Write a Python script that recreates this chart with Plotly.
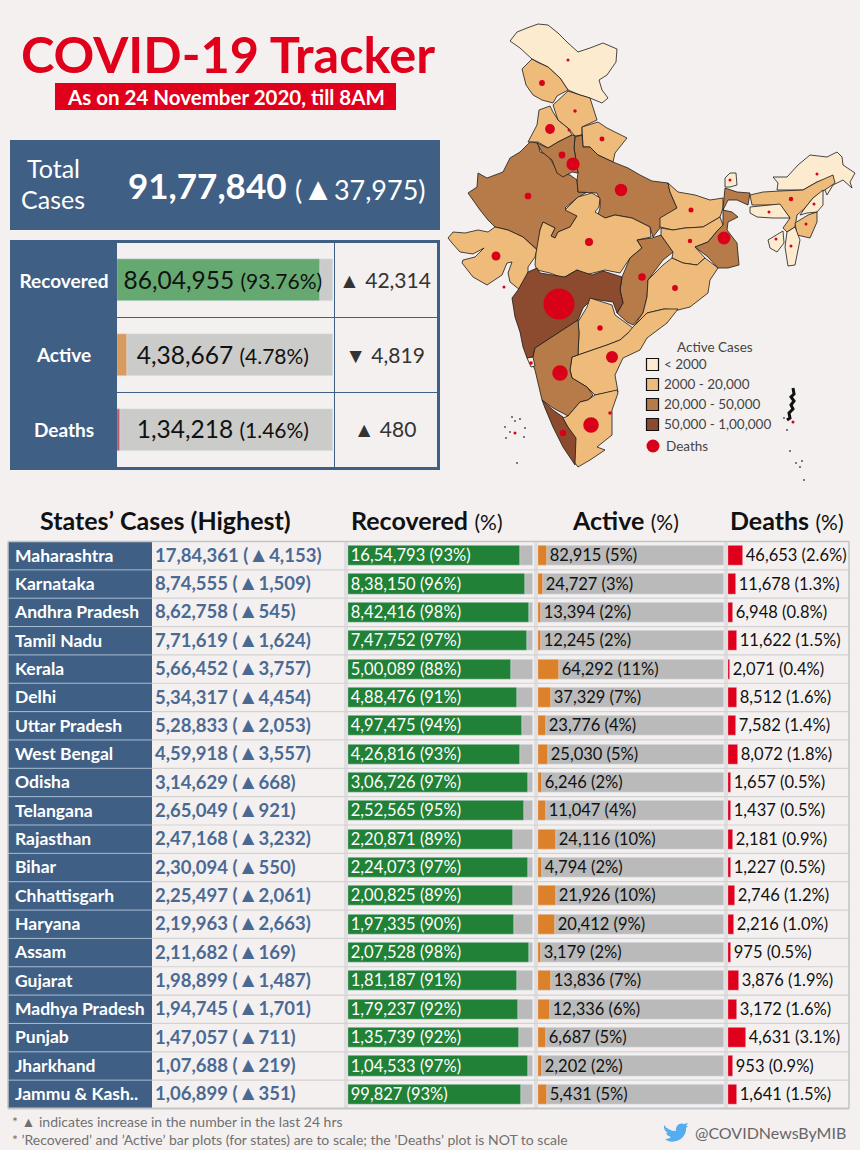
import plotly.graph_objects as go

W, H = 860, 1150
BG = "#f4f0f0"
BLUE = "#3f5f85"
RED = "#e0001b"
FONT = "Lato"

# state table
states = ["Maharashtra", "Karnataka", "Andhra Pradesh", "Tamil Nadu", "Kerala", "Delhi", "Uttar Pradesh",
          "West Bengal", "Odisha", "Telangana", "Rajasthan", "Bihar", "Chhattisgarh", "Haryana", "Assam",
          "Gujarat", "Madhya Pradesh", "Punjab", "Jharkhand", "Jammu & Kash.."]
cases = [1784361, 874555, 862758, 771619, 566452, 534317, 528833, 459918, 314629, 265049, 247168, 230094,
         225497, 219963, 211682, 198899, 194745, 147057, 107688, 106899]
new_cases = [4153, 1509, 545, 1624, 3757, 4454, 2053, 3557, 668, 921, 3232, 550, 2061, 2663, 169, 1487, 1701,
             711, 219, 351]
recovered = [1654793, 838150, 842416, 747752, 500089, 488476, 497475, 426816, 306726, 252565, 220871, 224073,
             200825, 197335, 207528, 181187, 179237, 135739, 104533, 99827]
recovered_pct = [93, 96, 98, 97, 88, 91, 94, 93, 97, 95, 89, 97, 89, 90, 98, 91, 92, 92, 97, 93]
active = [82915, 24727, 13394, 12245, 64292, 37329, 23776, 25030, 6246, 11047, 24116, 4794, 21926, 20412, 3179,
          13836, 12336, 6687, 2202, 5431]
active_pct = [5, 3, 2, 2, 11, 7, 4, 5, 2, 4, 10, 2, 10, 9, 2, 7, 6, 5, 2, 5]
deaths = [46653, 11678, 6948, 11622, 2071, 8512, 7582, 8072, 1657, 1437, 2181, 1227, 2746, 2216, 975, 3876,
          3172, 4631, 953, 1641]
deaths_pct = [2.6, 1.3, 0.8, 1.5, 0.4, 1.6, 1.4, 1.8, 0.5, 0.5, 0.9, 0.5, 1.2, 1.0, 0.5, 1.9, 1.6, 3.1, 0.9, 1.5]

# national summary
summary_names = ["Recovered", "Active", "Deaths"]
summary_values = [8604955, 438667, 134218]
summary_pct = [93.76, 4.78, 1.46]
summary_delta = ["▲ 42,314", "▼ 4,819", "▲ 480"]
summary_colors = ["#66a970", "#d99a60", "#bf5a6a"]

# map outlines
LIGHT, ORANGE, MID, DARK = "#fdebcf", "#eebb7a", "#b77b4a", "#8c4a2e"
ladakh = [(510, 41), (517, 32), (527, 28), (538, 24), (548, 25), (558, 33), (568, 43), (578, 52), (590, 48), (603, 43), (617, 49), (616, 62), (607, 75), (599, 80), (602, 90), (608, 98), (602, 103), (595, 100), (590, 98), (580, 95), (568, 90), (560, 78), (548, 67), (538, 62), (532, 59), (520, 48)]
jammu = [(532, 59), (537, 62), (548, 67), (560, 78), (568, 90), (557, 96), (553, 103), (542, 100), (533, 95), (526, 85), (522, 69)]
himachal = [(553, 105), (568, 91), (580, 95), (590, 98), (597, 120), (582, 127), (582, 135), (575, 136), (568, 128), (558, 120)]
punjab = [(550, 106), (553, 112), (558, 120), (568, 128), (572, 135), (558, 142), (548, 148), (538, 142), (528, 142), (537, 125), (539, 110)]
uttarakhand = [(582, 127), (598, 122), (607, 128), (627, 138), (615, 153), (613, 162), (598, 155), (590, 147), (583, 147)]
haryana = [(537, 143), (548, 148), (558, 142), (572, 135), (575, 136), (574, 148), (578, 173), (572, 172), (563, 177), (557, 173), (552, 160), (542, 152)]
uttar_pradesh = [(575, 137), (582, 135), (583, 147), (590, 147), (598, 155), (613, 162), (628, 168), (640, 175), (652, 181), (668, 183), (670, 192), (677, 208), (662, 218), (660, 228), (653, 237), (650, 227), (632, 218), (615, 215), (605, 218), (595, 213), (590, 217), (588, 228), (594, 233), (599, 230), (597, 218), (600, 208), (600, 200), (597, 193), (578, 192), (577, 180), (578, 173), (574, 148)]
rajasthan = [(530, 142), (538, 143), (540, 152), (548, 155), (558, 172), (570, 175), (577, 180), (578, 192), (587, 192), (577, 198), (565, 208), (577, 216), (570, 227), (558, 232), (555, 238), (551, 236), (555, 228), (543, 222), (540, 230), (538, 250), (523, 237), (508, 230), (495, 227), (488, 220), (480, 210), (468, 193), (477, 187), (478, 173), (487, 178), (503, 172), (510, 158), (520, 152)]
gujarat = [(448, 238), (453, 232), (465, 233), (478, 230), (488, 232), (495, 227), (508, 230), (523, 237), (537, 250), (535, 257), (528, 267), (528, 278), (520, 290), (510, 282), (508, 273), (512, 262), (507, 263), (502, 275), (487, 285), (473, 277), (462, 263), (463, 260), (475, 257), (484, 248), (473, 254), (460, 252), (452, 243)]
madhya_pradesh = [(565, 210), (578, 197), (592, 193), (600, 198), (599, 207), (595, 212), (605, 218), (615, 215), (632, 218), (650, 227), (651, 237), (637, 240), (642, 248), (630, 258), (620, 273), (605, 270), (585, 275), (577, 270), (563, 278), (550, 273), (537, 270), (535, 265), (536, 253), (538, 243), (540, 230), (543, 222), (555, 228), (551, 236), (555, 238), (558, 232), (570, 227), (577, 216)]
maharashtra = [(512, 298), (518, 290), (528, 272), (537, 268), (540, 273), (565, 277), (577, 270), (592, 275), (603, 271), (622, 277), (620, 290), (623, 303), (617, 313), (613, 302), (592, 299), (583, 308), (578, 320), (570, 325), (555, 335), (535, 348), (533, 357), (527, 358), (523, 347), (520, 332), (515, 317)]
chhattisgarh = [(637, 240), (652, 238), (661, 235), (673, 252), (663, 260), (648, 280), (647, 297), (643, 313), (633, 325), (627, 322), (617, 313), (623, 303), (620, 290), (622, 277), (630, 258), (642, 248)]
bihar = [(668, 183), (678, 192), (695, 195), (710, 200), (723, 198), (723, 208), (720, 217), (703, 227), (685, 228), (673, 230), (660, 227), (660, 218), (677, 208), (670, 192)]
jharkhand = [(661, 228), (673, 230), (685, 228), (703, 227), (720, 217), (723, 225), (718, 230), (708, 242), (695, 247), (705, 258), (697, 265), (683, 263), (672, 258), (673, 252), (661, 235)]
west_bengal = [(725, 188), (737, 192), (750, 193), (748, 205), (737, 200), (728, 200), (723, 210), (732, 212), (738, 217), (728, 222), (727, 230), (737, 243), (739, 265), (728, 268), (718, 268), (708, 257), (695, 247), (708, 242), (718, 230), (723, 225), (723, 215), (723, 208)]
sikkim = [(725, 178), (730, 173), (736, 173), (737, 185), (730, 187), (725, 187)]
odisha = [(663, 265), (672, 258), (683, 263), (697, 265), (705, 258), (718, 268), (710, 280), (708, 293), (690, 307), (678, 310), (664, 309), (647, 313), (634, 326), (643, 313), (647, 297), (648, 280)]
telangana = [(590, 298), (612, 305), (615, 315), (633, 328), (628, 333), (620, 340), (607, 345), (593, 350), (578, 355), (579, 333), (578, 322), (587, 307)]
andhra_pradesh = [(578, 355), (593, 350), (607, 345), (620, 340), (628, 333), (633, 327), (647, 313), (664, 309), (678, 309), (667, 323), (647, 338), (640, 350), (623, 358), (615, 375), (618, 392), (610, 392), (595, 395), (587, 387), (572, 378), (570, 370), (572, 357)]
karnataka = [(535, 348), (555, 335), (570, 325), (578, 320), (579, 333), (578, 355), (572, 357), (570, 370), (572, 378), (587, 387), (593, 395), (588, 400), (580, 402), (568, 416), (553, 408), (542, 400), (535, 370), (530, 358), (533, 357)]
goa = [(527, 358), (533, 357), (535, 366), (531, 367)]
kerala = [(542, 400), (553, 410), (563, 417), (568, 427), (577, 438), (575, 465), (563, 447), (553, 427), (545, 408)]
tamil_nadu = [(563, 418), (568, 416), (580, 402), (588, 400), (595, 395), (617, 390), (618, 393), (612, 410), (612, 435), (597, 447), (605, 450), (590, 460), (578, 467), (575, 463), (576, 438), (568, 427)]
arunachal = [(773, 177), (787, 177), (798, 165), (810, 155), (827, 157), (837, 152), (842, 157), (843, 165), (855, 173), (850, 182), (852, 188), (843, 180), (833, 185), (827, 195), (825, 190), (833, 177), (817, 182), (803, 190), (777, 190), (778, 183)]
assam = [(750, 195), (763, 192), (780, 191), (803, 190), (817, 182), (833, 175), (835, 183), (825, 190), (813, 198), (805, 208), (797, 215), (795, 227), (787, 232), (783, 228), (790, 218), (780, 205), (763, 205), (752, 205)]
meghalaya = [(750, 207), (763, 206), (780, 204), (790, 218), (773, 218), (757, 217), (750, 213)]
nagaland = [(805, 208), (813, 198), (823, 190), (823, 205), (817, 212), (807, 213), (800, 215)]
manipur = [(795, 223), (808, 215), (817, 212), (817, 222), (810, 238), (797, 235)]
mizoram = [(787, 232), (795, 227), (800, 240), (795, 265), (788, 266), (785, 247)]
tripura = [(768, 240), (783, 231), (784, 243), (777, 252), (770, 248)]
andaman = [(793, 388), (794, 394), (791, 397), (794, 401), (791, 405), (793, 409), (789, 413), (790, 418), (787, 420)]

map_regions = [(ladakh, LIGHT), (jammu, ORANGE), (punjab, ORANGE), (himachal, ORANGE), (uttarakhand, ORANGE),
               (rajasthan, MID), (uttar_pradesh, MID), (haryana, MID), (gujarat, ORANGE),
               (madhya_pradesh, ORANGE), (chhattisgarh, MID), (maharashtra, DARK), (bihar, ORANGE),
               (jharkhand, ORANGE), (west_bengal, MID), (sikkim, LIGHT), (odisha, ORANGE), (telangana, ORANGE),
               (andhra_pradesh, ORANGE), (karnataka, MID), (goa, LIGHT), (kerala, DARK), (tamil_nadu, ORANGE),
               (arunachal, LIGHT), (assam, ORANGE), (meghalaya, LIGHT), (nagaland, LIGHT), (manipur, ORANGE),
               (mizoram, LIGHT), (tripura, LIGHT)]

# death bubbles on the map
dot_x = [559, 560, 612, 591, 563, 573, 621, 724, 675, 600, 528, 691, 642, 562, 791, 496, 589, 550, 690, 542,
         568, 575, 602, 531, 730, 817, 769, 814, 806, 791, 776, 610, 569, 504, 515, 793]
dot_y = [304, 373, 357, 425, 433, 164, 190, 238, 288, 328, 196, 210, 277, 155, 199, 256, 242, 129, 241, 83,
         60, 111, 139, 363, 180, 174, 212, 204, 224, 246, 239, 413, 130, 287, 433, 422]
dot_deaths = deaths[:4] + [2071, 8512, 7582, 8072, 1657, 1437, 2181, 1227, 2746, 2216, 975, 3876, 3172, 4631, 953, 1641] + \
    [58, 600, 1200, 650, 130, 50, 100, 60, 100, 10, 360, 610, 220, 10, 5, 60]

# tiny island specks
speck_x = [512, 515, 505, 510, 520, 525, 506, 524, 517, 784, 787, 790, 796, 800, 802, 804]
speck_y = [417, 421, 427, 432, 419, 428, 438, 437, 463, 418, 430, 451, 463, 467, 461, 480]

legend_labels = ["< 2000", "2000 - 20,000", "20,000 - 50,000", "50,000 - 1,00,000"]
legend_colors = [LIGHT, ORANGE, MID, DARK]
legend_y = [364.5, 384.5, 404.5, 424.5]


def inr(n):
    # indian digit grouping
    s = str(n)
    if len(s) <= 3:
        return s
    head, tail = s[:-3], s[-3:]
    parts = []
    while len(head) > 2:
        parts.insert(0, head[-2:])
        head = head[:-2]
    if head:
        parts.insert(0, head)
    return ",".join(parts) + "," + tail


def dom_x(a, b):
    return [a / W, b / W]


def dom_y(top, bottom):
    return [1 - bottom / H, 1 - top / H]


def hidden(**kw):
    return dict(visible=False, fixedrange=True, **kw)


def small(t, size):
    return '<span style="font-size:%dpx">%s</span>' % (size, t)


fig = go.Figure()

# map
for pts, colour in map_regions:
    fig.add_trace(go.Scatter(x=[p[0] for p in pts] + [pts[0][0]], y=[p[1] for p in pts] + [pts[0][1]],
                             mode="lines", fill="toself", fillcolor=colour,
                             line=dict(color="#1a1a1a", width=0.8), hoverinfo="skip"))
fig.add_trace(go.Scatter(x=[p[0] for p in andaman], y=[p[1] for p in andaman], mode="lines",
                         line=dict(color="#111111", width=3), hoverinfo="skip"))
fig.add_trace(go.Scatter(x=speck_x, y=speck_y, mode="markers",
                         marker=dict(size=1.8, color="#444444"), hoverinfo="skip"))
fig.add_trace(go.Scatter(x=dot_x, y=dot_y, mode="markers", text=dot_deaths,
                         marker=dict(size=dot_deaths, sizemode="area", sizeref=2 * 46653 / 31 ** 2, sizemin=1.5,
                                     color="#d90019", opacity=1, line=dict(width=0))))

# map legend
fig.add_trace(go.Scatter(x=[652.5] * 4, y=legend_y, mode="markers",
                         marker=dict(symbol="square", size=12, color=legend_colors,
                                     line=dict(color="#111111", width=1.2)), hoverinfo="skip"))
fig.add_trace(go.Scatter(x=[664] * 4, y=[v + 1.5 for v in legend_y], mode="text", text=legend_labels,
                         textposition="middle right",
                         textfont=dict(family=FONT, size=13.5, color="#444444"), hoverinfo="skip"))
fig.add_trace(go.Scatter(x=[653], y=[446], mode="markers", marker=dict(size=13, color="#d90019"), hoverinfo="skip"))
fig.add_trace(go.Scatter(x=[666], y=[447.5], mode="text", text=["Deaths"], textposition="middle right",
                         textfont=dict(family=FONT, size=13.5, color="#444444"), hoverinfo="skip"))

# national summary bars
fig.add_trace(go.Bar(x=[100] * 3, y=summary_names, orientation="h", width=0.56, marker_color="#cbcbc9",
                     xaxis="x5", yaxis="y3", hoverinfo="skip"))
fig.add_trace(go.Bar(x=summary_pct, y=summary_names, orientation="h", width=0.56, marker_color=summary_colors,
                     xaxis="x5", yaxis="y3"))
summary_text = ['%s %s' % (inr(v), small("(%s%%)" % p, 21)) for v, p in zip(summary_values, summary_pct)]
fig.add_trace(go.Scatter(x=[49] * 3, y=summary_names, mode="text", text=summary_text, textposition="middle center",
                         textfont=dict(family=FONT, size=24.5, color="#111111"), xaxis="x8", yaxis="y5",
                         hoverinfo="skip"))
fig.add_trace(go.Scatter(x=[64] * 3, y=summary_names, mode="text", text=summary_names, textposition="middle center",
                         textfont=dict(family=FONT, size=19, color="white", weight=700), xaxis="x7", yaxis="y5",
                         hoverinfo="skip"))
fig.add_trace(go.Scatter(x=[385] * 3, y=summary_names, mode="text", text=summary_delta, textposition="middle center",
                         textfont=dict(family=FONT, size=21, color="#333333"), xaxis="x7", yaxis="y5",
                         hoverinfo="skip"))

# state table bars
BAR_W = 0.71
BAR_FONT = 16.5
rec_share = [r / c * 100 for r, c in zip(recovered, cases)]
act_share = [a / c * 100 for a, c in zip(active, cases)]
fig.add_trace(go.Bar(x=[100] * 20, y=states, orientation="h", width=BAR_W, marker_color="#bababa",
                     xaxis="x2", yaxis="y2", hoverinfo="skip"))
fig.add_trace(go.Bar(x=rec_share, y=states, orientation="h", width=BAR_W, marker_color="#218137",
                     text=["%s (%d%%)" % (inr(v), p) for v, p in zip(recovered, recovered_pct)],
                     textposition="inside", insidetextanchor="start", textangle=0, cliponaxis=False,
                     constraintext="none",
                     textfont=dict(family=FONT, size=BAR_FONT, color="white"), xaxis="x2", yaxis="y2"))
fig.add_trace(go.Bar(x=[100] * 20, y=states, orientation="h", width=BAR_W, marker_color="#bababa",
                     xaxis="x3", yaxis="y2", hoverinfo="skip"))
fig.add_trace(go.Bar(x=act_share, y=states, orientation="h", width=BAR_W, marker_color="#dc812a",
                     text=["%s (%d%%)" % (inr(v), p) for v, p in zip(active, active_pct)],
                     textposition="outside", textangle=0, cliponaxis=False, constraintext="none",
                     textfont=dict(family=FONT, size=BAR_FONT, color="#111111"), xaxis="x3", yaxis="y2"))
fig.add_trace(go.Bar(x=deaths_pct, y=states, orientation="h", width=BAR_W, marker_color="#e0001b",
                     text=["%s (%.1f%%)" % (inr(v), p) for v, p in zip(deaths, deaths_pct)],
                     textposition="outside", textangle=0, cliponaxis=False, constraintext="none",
                     textfont=dict(family=FONT, size=BAR_FONT, color="#111111"), xaxis="x4", yaxis="y2"))
fig.add_trace(go.Scatter(x=[15] * 20, y=states, mode="text", text=states, textposition="middle right",
                         textfont=dict(family=FONT, size=17.5, color="white", weight=700), xaxis="x6", yaxis="y4",
                         hoverinfo="skip"))
fig.add_trace(go.Scatter(x=[155] * 20, y=states, mode="text", textposition="middle right",
                         text=["%s (%s%s)" % (inr(c), small("▲", 21), inr(n)) for c, n in zip(cases, new_cases)],
                         textfont=dict(family=FONT, size=18.5, color="#4a6a94", weight=700), xaxis="x6", yaxis="y4",
                         hoverinfo="skip"))

# panels and table furniture
shapes = []


def rect(x0, y0, x1, y1, fill=None, line=None, width=0):
    shapes.append(dict(type="rect", xref="x", yref="y", x0=x0, y0=y0, x1=x1, y1=y1, fillcolor=fill,
                       line=dict(color=line, width=width), layer="below"))


def hline(x0, x1, y, colour, width=1):
    shapes.append(dict(type="line", xref="x", yref="y", x0=x0, x1=x1, y0=y, y1=y,
                       line=dict(color=colour, width=width), layer="below"))


def vline(x, y0, y1, colour, width=1):
    shapes.append(dict(type="line", xref="x", yref="y", x0=x, x1=x, y0=y0, y1=y1,
                       line=dict(color=colour, width=width), layer="below"))


rect(55, 83, 396, 110, fill=RED)
rect(10, 140, 440, 230, fill=BLUE)
rect(10, 240, 117, 470, fill=BLUE)
rect(115.5, 241.5, 438.5, 468.5, line=BLUE, width=3)
vline(334.5, 243, 467, BLUE)
hline(117, 437, 317.5, BLUE)
hline(117, 437, 392.5, BLUE)

ROW_TOP, ROW_H = 541.5, 28.35
rect(8, ROW_TOP, 152, ROW_TOP + 20 * ROW_H, fill=BLUE)
for i in range(21):
    hline(8, 152, ROW_TOP + i * ROW_H, "#a9bdd3", 1)
    hline(152, 849, ROW_TOP + i * ROW_H, "#d2d2d2", 1.2)
for gx in [345, 347, 535, 537, 725, 727]:
    vline(gx, ROW_TOP, ROW_TOP + 20 * ROW_H, "#d2d2d2", 1.2)
vline(849, ROW_TOP, ROW_TOP + 20 * ROW_H, "#c4c4c4", 1.5)
hline(8, 849, ROW_TOP + 20 * ROW_H, "#c4c4c4", 2)
hline(8, 849, ROW_TOP, "#c4c4c4", 1.5)
vline(8, ROW_TOP, ROW_TOP + 20 * ROW_H, "#c4c4c4", 1.5)

# twitter bird
shapes.append(dict(type="path", xref="x", yref="y", fillcolor="#55acee", line=dict(width=0), layer="above",
                   path="M 664,1125 C 667,1129 671,1131 676,1131 C 675,1126 680,1122 684,1124 L 688,1123 "
                        "L 686,1126 L 688,1126 L 686,1128 C 687,1136 678,1144 668,1141 L 665,1139 "
                        "C 668,1139 670,1138 671,1137 C 668,1136 667,1135 666,1133 L 668,1133 "
                        "C 666,1132 664,1130 664,1127 Z"))


def note(x, y, text, size, colour, anchor="left", bold=False):
    return dict(xref="x", yref="y", x=x, y=y, text=text, showarrow=False, xanchor=anchor, yanchor="middle",
                font=dict(family=FONT, size=size, color=colour, weight=700 if bold else 400))


annotations = [
    note(228, 53, "COVID-19 Tracker", 50.5, RED, "center", True),
    note(226, 97, "As on 24 November 2020, till 8AM", 20.5, "white", "center", True),
    note(53, 168, "Total", 25, "white", "center"),
    note(53, 199, "Cases", 25, "white", "center"),
    note(126, 185, "<b>91,77,840</b>", 35, "white"),
    note(293, 187, "(" + small("▲", 32) + "37,975)", 27, "white"),
    note(165, 520, "States’ Cases (Highest)", 25, "#111111", "center", True),
    note(349, 520, "<b>Recovered</b> " + small("(%)", 21), 25, "#111111"),
    note(625, 520, "<b>Active</b> " + small("(%)", 21), 25, "#111111", "center"),
    note(787, 520, "<b>Deaths</b> " + small("(%)", 21), 25, "#111111", "center"),
    note(10, 1121, "* ▲ indicates increase in the number in the last 24 hrs", 14, "#707070"),
    note(10, 1139, "* ’Recovered’ and ’Active’ bar plots (for states) are to scale; the ’Deaths’ plot is NOT to scale",
         14, "#707070"),
    note(693, 1132, "@COVIDNewsByMIB", 16, "#666666"),
    note(715, 347, "Active Cases", 13.5, "#444444", "center"),
]

TABLE_BOTTOM = ROW_TOP + 20 * ROW_H
fig.update_layout(
    width=W, height=H, autosize=False,
    margin=dict(l=0, r=0, t=0, b=0),
    paper_bgcolor=BG, plot_bgcolor="rgba(0,0,0,0)",
    showlegend=False, barmode="overlay", bargap=0,
    shapes=shapes, annotations=annotations,
    font=dict(family=FONT),
    xaxis=hidden(range=[0, W], domain=[0, 1]),
    yaxis=hidden(range=[H, 0], domain=[0, 1]),
    xaxis2=hidden(range=[0, 100], domain=dom_x(348, 533), anchor="y2"),
    xaxis3=hidden(range=[0, 100], domain=dom_x(538, 724), anchor="y2"),
    xaxis4=hidden(range=[0, 20.7], domain=dom_x(728, 848), anchor="y2"),
    xaxis5=hidden(range=[0, 100], domain=dom_x(117, 333), anchor="y3"),
    xaxis6=hidden(range=[0, W], domain=[0, 1], anchor="y4"),
    xaxis7=hidden(range=[0, W], domain=[0, 1], anchor="y5"),
    xaxis8=hidden(range=[0, 100], domain=dom_x(117, 333), anchor="y5"),
    yaxis2=hidden(type="category", categoryorder="array", categoryarray=states, range=[19.5, -0.5],
                  domain=dom_y(ROW_TOP, TABLE_BOTTOM), anchor="x2"),
    yaxis3=hidden(type="category", categoryorder="array", categoryarray=summary_names, range=[2.5, -0.5],
                  domain=dom_y(243, 467), anchor="x5"),
    # same rows as y2/y3, nudged down so the text sits on the bars' centre line
    yaxis4=hidden(type="category", categoryorder="array", categoryarray=states, range=[19.5, -0.5],
                  domain=dom_y(ROW_TOP + 1.5, TABLE_BOTTOM + 1.5), anchor="x6"),
    yaxis5=hidden(type="category", categoryorder="array", categoryarray=summary_names, range=[2.5, -0.5],
                  domain=dom_y(245.5, 469.5), anchor="x7"),
)

# the page's default body margin would push the figure off its 860x1150 frame
fig.write_html("out.html", config=dict(displayModeBar=False),
               post_script="document.body.style.margin='0';document.body.style.background='%s';" % BG)
